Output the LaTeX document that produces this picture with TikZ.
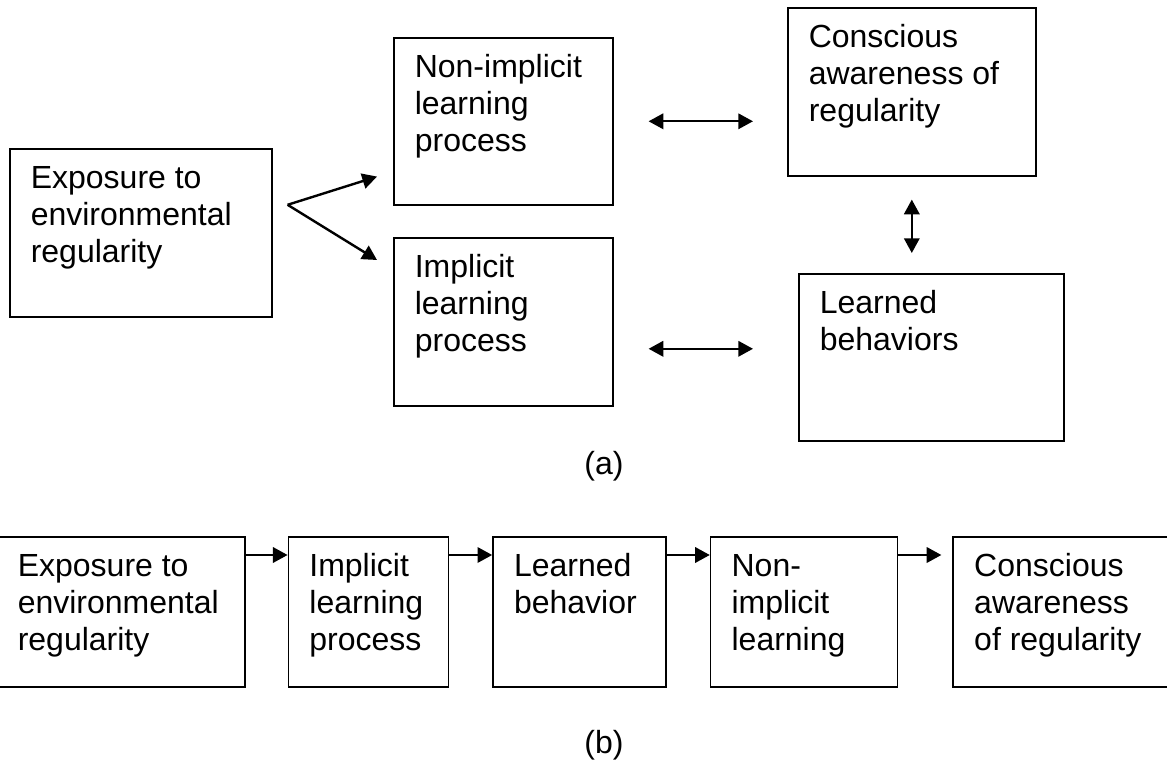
\documentclass[tikz,border=0pt]{standalone}
\usepackage{fontspec}
\setmainfont{Liberation Sans}
\usetikzlibrary{arrows.meta,positioning}
\newlength\px
\setlength\px{0.75pt}
% box contents: width, height, text (top left aligned)
\newcommand{\boxtext}[3]{\parbox[c][#2\px][t]{#1\px}{\leftskip=21\px\rule{0pt}{40\px}#3}}

\begin{document}
\begin{tikzpicture}[x=0.75pt, y=-0.75pt,
    every node/.style={font=\fontsize{24pt}{27.5pt}\selectfont},
    box/.style={draw, line width=1.2pt, inner sep=0pt, anchor=north west},
    arrow/.style={-{Triangle[length=11pt, width=11.5pt]}, line width=1.8pt},
    dblarrow/.style={{Triangle[length=11pt, width=11.5pt]}-{Triangle[length=11pt, width=11.5pt]}, line width=1.8pt}
]
\useasboundingbox (0,0) rectangle (1167,773);

% Panel (a)
\node[box] (expo) at (9,148) {\boxtext{262}{168}{Exposure to\\environmental\\regularity}};
\node[box] (nonimp) at (393,37) {\boxtext{219}{167}{Non-implicit\\learning\\process}};
\node[box] (imp) at (393,237) {\boxtext{219}{168}{Implicit\\learning\\process}};
\node[box] (consc) at (787,7) {\boxtext{248}{168}{Conscious\\awareness of\\regularity}};
\node[box] (learned) at (798,273) {\boxtext{265}{167}{Learned\\behaviors}};
\node (capa) at (604,466) {(a)};

% Arrows of (a)
\coordinate (fork) at ([shift={(15,-28)}]expo.east);
\draw[arrow] (fork) -- ([shift={(-16,-29)}]nonimp.south west);
\draw[arrow] (fork) -- ([shift={(-16,23)}]imp.north west);
\draw[dblarrow, shorten <=35\px, shorten >=34\px] (nonimp.east) -- (nonimp.east -| consc.west);
\path (imp.east) ++(0,27) coordinate (imp2);
\draw[dblarrow, shorten <=35\px, shorten >=45\px] (imp2) -- (imp2 -| learned.west);
\draw[dblarrow, shorten <=23\px, shorten >=20\px] (consc.south) -- (consc.south |- learned.north);

% Panel (b)
\node[box] (b1) at (-4,536) {\boxtext{248}{150}{Exposure to\\environmental\\regularity}};
\node[box, right=42\px of b1.north east, anchor=north west] (b2) {\boxtext{160}{150}{Implicit\\learning\\process}};
\node[box, right=43\px of b2.north east, anchor=north west] (b3) {\boxtext{173}{150}{Learned\\behavior}};
\node[box, right=43\px of b3.north east, anchor=north west] (b4) {\boxtext{187}{150}{Non-\\implicit\\learning}};
\node[box, right=54\px of b4.north east, anchor=north west] (b5) {\boxtext{219}{150}{Conscious\\awareness\\of regularity}};
\node (capb) at (604,745) {(b)};

% Arrows of (b)
\foreach \a/\b in {b1/b2,b2/b3,b3/b4}
  \draw[arrow] ([yshift=-19\px]\a.north east) -- ([yshift=-19\px]\b.north west);
\draw[arrow, shorten >=11\px] ([yshift=-19\px]b4.north east) -- ([yshift=-19\px]b5.north west);

\end{tikzpicture}
\end{document}
